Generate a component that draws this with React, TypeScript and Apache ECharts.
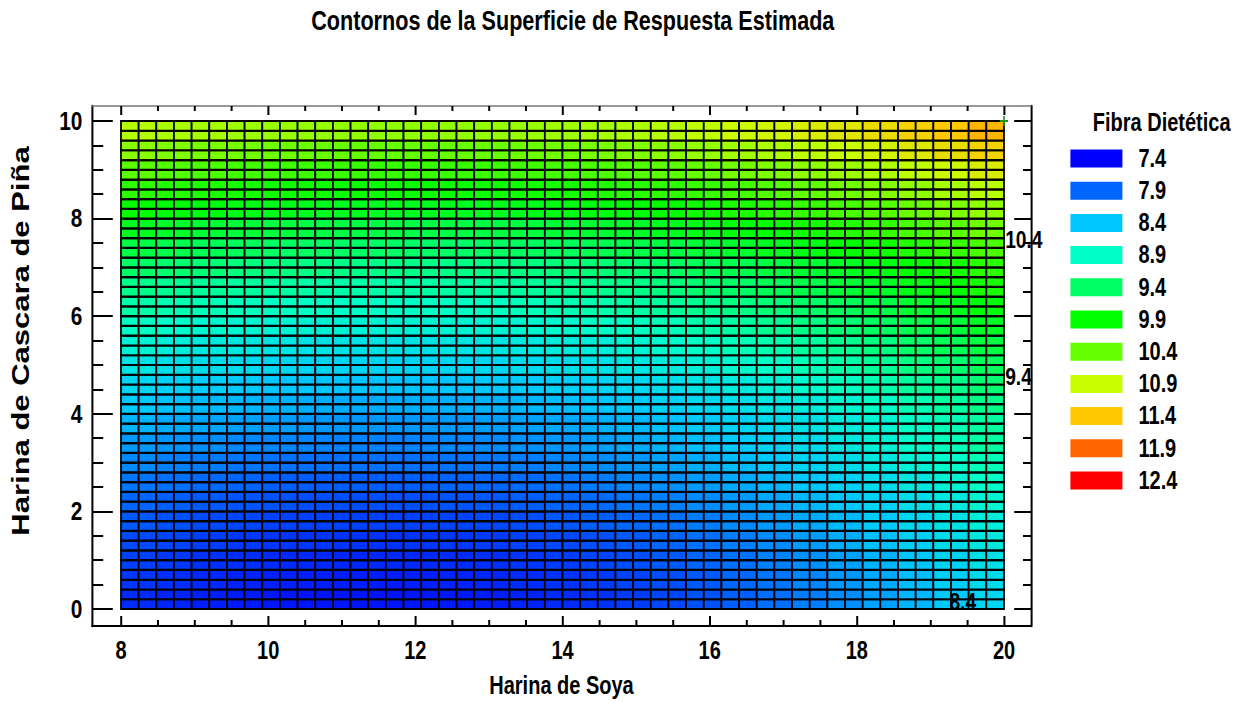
import React, { useEffect, useRef } from "react";
import * as echarts from "echarts";

// ---------- data ----------
const soyaRange = [8, 20];
const pinaRange = [0, 10];
const meshCols = 50;
const meshRows = 50;

// Estimated response (Fibra Dietética), rows from Piña = 0 (bottom) to 10 (top),
// columns from Soya = 8 (left) to 20 (right); each entry covers 2x2 mesh cells.
const fibraTable: number[][] = [
  [7.62, 7.58, 7.55, 7.53, 7.51, 7.50, 7.50, 7.50, 7.51, 7.52, 7.54, 7.57, 7.61, 7.65, 7.70, 7.75, 7.81, 7.88, 7.95, 8.03, 8.11, 8.21, 8.31, 8.41, 8.52],
  [7.67, 7.63, 7.60, 7.57, 7.56, 7.55, 7.54, 7.54, 7.55, 7.57, 7.59, 7.62, 7.65, 7.69, 7.74, 7.79, 7.85, 7.92, 7.99, 8.07, 8.16, 8.25, 8.35, 8.46, 8.57],
  [7.72, 7.68, 7.65, 7.63, 7.61, 7.60, 7.59, 7.60, 7.60, 7.62, 7.64, 7.67, 7.70, 7.74, 7.79, 7.85, 7.91, 7.97, 8.05, 8.12, 8.21, 8.30, 8.40, 8.51, 8.62],
  [7.77, 7.74, 7.71, 7.68, 7.67, 7.66, 7.65, 7.65, 7.66, 7.68, 7.70, 7.73, 7.76, 7.80, 7.85, 7.90, 7.96, 8.03, 8.10, 8.18, 8.27, 8.36, 8.46, 8.57, 8.68],
  [7.84, 7.80, 7.77, 7.75, 7.73, 7.72, 7.72, 7.72, 7.73, 7.74, 7.76, 7.79, 7.83, 7.87, 7.92, 7.97, 8.03, 8.10, 8.17, 8.25, 8.33, 8.43, 8.53, 8.63, 8.74],
  [7.91, 7.88, 7.85, 7.82, 7.81, 7.79, 7.79, 7.79, 7.80, 7.82, 7.84, 7.87, 7.90, 7.94, 7.99, 8.04, 8.10, 8.17, 8.24, 8.32, 8.41, 8.50, 8.60, 8.70, 8.82],
  [7.99, 7.96, 7.93, 7.90, 7.88, 7.87, 7.87, 7.87, 7.88, 7.90, 7.92, 7.94, 7.98, 8.02, 8.07, 8.12, 8.18, 8.25, 8.32, 8.40, 8.49, 8.58, 8.68, 8.78, 8.90],
  [8.08, 8.04, 8.01, 7.99, 7.97, 7.96, 7.96, 7.96, 7.97, 7.98, 8.00, 8.03, 8.07, 8.11, 8.15, 8.21, 8.27, 8.34, 8.41, 8.49, 8.57, 8.67, 8.77, 8.87, 8.98],
  [8.17, 8.14, 8.11, 8.08, 8.07, 8.06, 8.05, 8.05, 8.06, 8.08, 8.10, 8.13, 8.16, 8.20, 8.25, 8.30, 8.36, 8.43, 8.50, 8.58, 8.67, 8.76, 8.86, 8.97, 9.08],
  [8.30, 8.26, 8.23, 8.20, 8.18, 8.16, 8.15, 8.15, 8.16, 8.17, 8.19, 8.21, 8.24, 8.28, 8.32, 8.37, 8.43, 8.49, 8.56, 8.63, 8.72, 8.80, 8.90, 9.00, 9.11],
  [8.41, 8.37, 8.34, 8.31, 8.29, 8.27, 8.26, 8.26, 8.27, 8.28, 8.29, 8.32, 8.35, 8.39, 8.43, 8.48, 8.54, 8.60, 8.67, 8.74, 8.82, 8.91, 9.01, 9.11, 9.22],
  [8.53, 8.48, 8.45, 8.42, 8.40, 8.39, 8.38, 8.38, 8.38, 8.39, 8.41, 8.43, 8.46, 8.50, 8.54, 8.59, 8.65, 8.71, 8.78, 8.86, 8.94, 9.03, 9.12, 9.22, 9.33],
  [8.65, 8.61, 8.57, 8.55, 8.52, 8.51, 8.50, 8.50, 8.50, 8.52, 8.53, 8.56, 8.59, 8.62, 8.67, 8.72, 8.77, 8.84, 8.90, 8.98, 9.06, 9.15, 9.25, 9.35, 9.45],
  [8.78, 8.74, 8.70, 8.68, 8.65, 8.64, 8.63, 8.63, 8.63, 8.65, 8.66, 8.69, 8.72, 8.75, 8.80, 8.85, 8.90, 8.97, 9.03, 9.11, 9.19, 9.28, 9.38, 9.48, 9.58],
  [8.92, 8.87, 8.84, 8.81, 8.79, 8.78, 8.77, 8.77, 8.77, 8.78, 8.80, 8.82, 8.85, 8.89, 8.93, 8.98, 9.04, 9.10, 9.17, 9.25, 9.33, 9.42, 9.51, 9.61, 9.72],
  [9.06, 9.02, 8.98, 8.96, 8.94, 8.92, 8.91, 8.91, 8.92, 8.93, 8.94, 8.97, 9.00, 9.03, 9.08, 9.13, 9.18, 9.25, 9.32, 9.39, 9.47, 9.56, 9.66, 9.76, 9.87],
  [9.21, 9.17, 9.14, 9.11, 9.09, 9.07, 9.06, 9.06, 9.07, 9.08, 9.10, 9.12, 9.15, 9.19, 9.23, 9.28, 9.34, 9.40, 9.47, 9.54, 9.63, 9.71, 9.81, 9.91, 10.02],
  [9.40, 9.35, 9.32, 9.28, 9.26, 9.24, 9.23, 9.22, 9.22, 9.23, 9.24, 9.26, 9.29, 9.32, 9.36, 9.41, 9.46, 9.52, 9.58, 9.65, 9.73, 9.82, 9.91, 10.00, 10.11],
  [9.56, 9.52, 9.48, 9.45, 9.42, 9.41, 9.39, 9.39, 9.39, 9.39, 9.41, 9.43, 9.45, 9.49, 9.53, 9.57, 9.62, 9.68, 9.75, 9.82, 9.90, 9.98, 10.07, 10.17, 10.27],
  [9.74, 9.69, 9.65, 9.62, 9.60, 9.58, 9.57, 9.56, 9.56, 9.57, 9.58, 9.60, 9.63, 9.66, 9.70, 9.75, 9.80, 9.86, 9.92, 9.99, 10.07, 10.15, 10.25, 10.34, 10.45],
  [9.92, 9.87, 9.83, 9.80, 9.78, 9.76, 9.75, 9.74, 9.74, 9.75, 9.76, 9.78, 9.81, 9.84, 9.88, 9.93, 9.98, 10.04, 10.10, 10.17, 10.25, 10.33, 10.43, 10.52, 10.63],
  [10.12, 10.08, 10.04, 10.01, 9.98, 9.97, 9.95, 9.95, 9.95, 9.95, 9.97, 9.99, 10.01, 10.05, 10.09, 10.13, 10.18, 10.24, 10.31, 10.38, 10.46, 10.54, 10.63, 10.73, 10.83],
  [10.35, 10.30, 10.27, 10.23, 10.21, 10.19, 10.18, 10.17, 10.17, 10.18, 10.19, 10.21, 10.24, 10.27, 10.31, 10.36, 10.41, 10.47, 10.53, 10.60, 10.68, 10.77, 10.86, 10.95, 11.06],
  [10.58, 10.54, 10.50, 10.47, 10.44, 10.42, 10.41, 10.40, 10.40, 10.41, 10.42, 10.44, 10.47, 10.50, 10.54, 10.59, 10.64, 10.70, 10.76, 10.84, 10.91, 11.00, 11.09, 11.19, 11.29],
  [10.80, 10.75, 10.72, 10.68, 10.66, 10.64, 10.63, 10.62, 10.62, 10.63, 10.64, 10.66, 10.69, 10.72, 10.76, 10.81, 10.86, 10.92, 10.98, 11.05, 11.13, 11.22, 11.31, 11.40, 11.50],
];

const xMajorTicks = [8, 10, 12, 14, 16, 18, 20];
const xMinorTicks = [8.5, 9, 9.5, 10.5, 11, 11.5, 12.5, 13, 13.5, 14.5, 15, 15.5, 16.5, 17, 17.5, 18.5, 19, 19.5];
const yMajorTicks = [0, 2, 4, 6, 8, 10];
const yMinorTicks = [0.5, 1, 1.5, 2.5, 3, 3.5, 4.5, 5, 5.5, 6.5, 7, 7.5, 8.5, 9, 9.5];

const fibraLevels = ["7.4", "7.9", "8.4", "8.9", "9.4", "9.9", "10.4", "10.9", "11.4", "11.9", "12.4"];
const fibraColors = ["#0000ff", "#0064ff", "#00c8ff", "#00ffc8", "#00ff64", "#00ff00", "#64ff00", "#c8ff00", "#ffc800", "#ff6400", "#ff0000"];

const contourLabels: [number, number, string][] = [
  [20.0, 7.56, "10.4"],
  [20.0, 4.77, "9.4"],
  [19.44, 0.14, "8.4"],
];
const cornerPoints: [number, number][] = [[20, 10]];

const titleText = "Contornos de la Superficie de Respuesta Estimada";
const xName = "Harina de Soya";
const yName = "Harina de Cascara de Piña";
const legendTitle = "Fibra Dietética";

// ---------- layout ----------
const SQUISH = 0.8;
const PAGE_W = 1248;
const PAGE_H = 703;
const CANVAS_W = PAGE_W / SQUISH;
const X_MIN = 7.606;
const X_MAX = 20.367;
const Y_MIN = -0.348;
const Y_MAX = 10.307;
const FONT = "'Liberation Sans', Arial, Helvetica, sans-serif";

const boldText = (size: number) => ({
  fontFamily: FONT,
  fontWeight: "bold" as const,
  fontSize: size,
  color: "#000",
});

export default function App() {
  const ref = useRef<HTMLDivElement>(null);

  useEffect(() => {
    if (!ref.current) return;
    const chart = echarts.init(ref.current, null, {
      renderer: "svg",
      width: CANVAS_W,
      height: PAGE_H,
    });

    const cw = (soyaRange[1] - soyaRange[0]) / meshCols;
    const rh = (pinaRange[1] - pinaRange[0]) / meshRows;
    const tRows = fibraTable.length;
    const tCols = fibraTable[0].length;
    const meshData: number[][] = [];
    for (let r = 0; r < meshRows; r++) {
      for (let c = 0; c < meshCols; c++) {
        const v = fibraTable[Math.floor((r * tRows) / meshRows)][Math.floor((c * tCols) / meshCols)];
        meshData.push([soyaRange[0] + c * cw, pinaRange[0] + r * rh, v]);
      }
    }

    const axisBase = {
      type: "value" as const,
      splitLine: { show: false },
      axisLine: { show: false, onZero: false },
      axisLabel: { show: false },
    };
    const lineStyle = (w: number) => ({ color: "#000", width: w });

    const option: any = {
      animation: false,
      backgroundColor: "#fff",
      grid: { left: 115, right: CANVAS_W - 1288.75, top: 106, bottom: PAGE_H - 626, containLabel: false },
      xAxis: [
        {
          ...axisBase,
          min: X_MIN,
          max: X_MAX,
          position: "bottom",
          axisLine: { show: true, onZero: false, lineStyle: lineStyle(2) },
          axisTick: { show: true, inside: true, length: 10, customValues: xMajorTicks, lineStyle: lineStyle(2.5) },
          axisLabel: { show: true, customValues: xMajorTicks, margin: 12, ...boldText(25) },
          name: xName,
          nameLocation: "middle",
          nameGap: 47,
          nameTextStyle: boldText(25),
        },
        {
          ...axisBase,
          min: X_MIN,
          max: X_MAX,
          position: "bottom",
          axisTick: { show: true, inside: true, length: 6, customValues: xMinorTicks, lineStyle: lineStyle(2.5) },
        },
        {
          ...axisBase,
          min: X_MIN,
          max: X_MAX,
          position: "top",
          axisLine: { show: true, onZero: false, lineStyle: { color: "#777", width: 1.5 } },
          axisTick: { show: true, inside: true, length: 9, customValues: xMajorTicks, lineStyle: lineStyle(2.5) },
        },
        {
          ...axisBase,
          min: X_MIN,
          max: X_MAX,
          position: "top",
          axisTick: { show: true, inside: true, length: 5, customValues: xMinorTicks, lineStyle: lineStyle(2.5) },
        },
      ],
      yAxis: [
        {
          ...axisBase,
          min: Y_MIN,
          max: Y_MAX,
          position: "left",
          axisLine: { show: true, onZero: false, lineStyle: lineStyle(2.5) },
          axisTick: { show: true, inside: true, length: 26, customValues: yMajorTicks, lineStyle: lineStyle(2) },
          axisLabel: { show: true, customValues: yMajorTicks, margin: 12, ...boldText(26) },
        },
        {
          ...axisBase,
          min: Y_MIN,
          max: Y_MAX,
          position: "left",
          axisTick: { show: true, inside: true, length: 14, customValues: yMinorTicks, lineStyle: lineStyle(2) },
        },
        {
          ...axisBase,
          min: Y_MIN,
          max: Y_MAX,
          position: "right",
          axisLine: { show: true, onZero: false, lineStyle: lineStyle(2.5) },
          axisTick: { show: true, inside: true, length: 21, customValues: yMajorTicks, lineStyle: lineStyle(2) },
        },
        {
          ...axisBase,
          min: Y_MIN,
          max: Y_MAX,
          position: "right",
          axisTick: { show: true, inside: true, length: 10, customValues: yMinorTicks, lineStyle: lineStyle(2) },
        },
      ],
      visualMap: {
        type: "continuous",
        show: false,
        min: 7.4,
        max: 12.4,
        dimension: 2,
        seriesIndex: 0,
        inRange: { color: fibraColors },
      },
      legend: {
        orient: "vertical",
        left: 1333,
        top: 141,
        itemWidth: 65,
        itemHeight: 18,
        itemGap: 7.2,
        icon: "rect",
        selectedMode: false,
        data: fibraLevels,
        itemStyle: { opacity: 1, borderWidth: 0 },
        textStyle: { ...boldText(25), padding: [0, 0, 0, 15] },
      },
      graphic: [
        {
          type: "text",
          x: 716,
          y: 21,
          style: { text: titleText, ...boldText(27), fill: "#000", align: "center", verticalAlign: "middle" },
        },
        {
          type: "text",
          x: 1366,
          y: 123,
          style: { text: legendTitle, ...boldText(25), fill: "#000", align: "left", verticalAlign: "middle" },
        },
        {
          type: "text",
          x: 26,
          y: 341,
          rotation: Math.PI / 2,
          style: { text: yName, ...boldText(31), fill: "#000", align: "center", verticalAlign: "middle" },
        },
      ],
      series: [
        {
          type: "custom",
          xAxisIndex: 0,
          yAxisIndex: 0,
          data: meshData,
          encode: { x: 0, y: 1 },
          renderItem: (_params: any, api: any) => {
            const x0 = api.value(0);
            const y0 = api.value(1);
            const a = api.coord([x0, y0]);
            const b = api.coord([x0 + cw, y0 + rh]);
            return {
              type: "rect",
              shape: { x: a[0], y: b[1], width: b[0] - a[0], height: a[1] - b[1] },
              style: { fill: api.visual("color"), stroke: "#000", lineWidth: 2.2 },
            };
          },
          z: 1,
        },
        {
          type: "scatter",
          xAxisIndex: 0,
          yAxisIndex: 0,
          symbolSize: 1,
          itemStyle: { color: "rgba(0,0,0,0)", opacity: 1 },
          z: 5,
          data: contourLabels.map(([x, y, t], i) => ({
            value: [x, y],
            name: t,
            label: {
              show: true,
              formatter: "{b}",
              position: i < 2 ? "right" : "inside",
              distance: 1,
              opacity: 1,
              textBorderWidth: 0,
              ...boldText(24),
            },
          })),
        },
        {
          type: "scatter",
          xAxisIndex: 0,
          yAxisIndex: 0,
          symbol: "path://M4,0h2v10h-2zM0,4h10v2h-10z",
          symbolSize: 10,
          itemStyle: { color: "#1a9a1a", opacity: 1 },
          z: 6,
          data: cornerPoints,
        },
        ...fibraLevels.map((name, i) => ({
          type: "scatter",
          name,
          data: [],
          itemStyle: { color: fibraColors[i], opacity: 1 },
        })),
      ],
    };

    chart.setOption(option);
    return () => chart.dispose();
  }, []);

  return (
    <div
      style={{
        position: "fixed",
        left: 0,
        top: 0,
        width: PAGE_W,
        height: PAGE_H,
        overflow: "hidden",
        background: "#fff",
      }}
    >
      <div
        ref={ref}
        style={{
          width: CANVAS_W,
          height: PAGE_H,
          transform: `scaleX(${SQUISH})`,
          transformOrigin: "0 0",
        }}
      />
    </div>
  );
}
